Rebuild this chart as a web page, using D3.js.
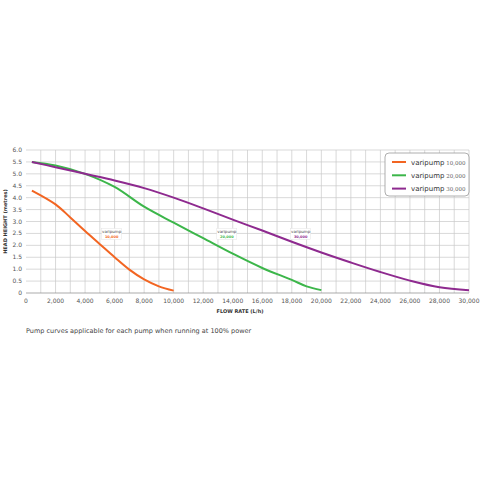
<!DOCTYPE html>
<html><head><meta charset="utf-8">
<script src="https://cdn.jsdelivr.net/npm/d3@7"></script>
<style>body{margin:0;background:#fff}text{font-family:"DejaVu Sans",sans-serif}</style>
</head><body><div id="chart"></div>
<script>
// data
const flow10 = [400, 2000, 3000, 4000, 5000, 6000, 7000, 8000, 9000, 10000];
const head10 = [4.3, 3.72, 3.17, 2.6, 2.05, 1.5, 0.98, 0.57, 0.28, 0.1];
const flow20 = [400, 2000, 4000, 6000, 8000, 10000, 12000, 14000, 16000, 18000, 19000, 20000];
const head20 = [5.5, 5.35, 5.0, 4.45, 3.62, 2.95, 2.3, 1.65, 1.05, 0.55, 0.28, 0.12];
const flow30 = [400, 2000, 4000, 6000, 8000, 10000, 12000, 14000, 16000, 18000, 20000, 22000, 24000, 26000, 28000, 30000];
const head30 = [5.5, 5.28, 5.0, 4.72, 4.4, 4.0, 3.55, 3.08, 2.62, 2.15, 1.7, 1.28, 0.88, 0.52, 0.24, 0.12];
const names = ["10,000", "20,000", "30,000"];
const colors = ["#f26522", "#3cb64a", "#8e2a8f"];
const xTicks = d3.range(0, 30001, 2000);
const yTicks = d3.range(0, 6.01, 0.5);

const width = 480, height = 480;
const margin = {left: 26, right: 11, top: 150, bottom: 187};

const svg = d3.select("#chart").append("svg")
    .attr("width", width).attr("height", height);

const x = d3.scaleLinear().domain([0, 30000]).range([margin.left, width - margin.right]);
const y = d3.scaleLinear().domain([0, 6]).range([height - margin.bottom, margin.top]);

// grid
svg.append("g").selectAll("line").data(d3.range(1000, 30001, 1000)).join("line")
    .attr("x1", d => x(d)).attr("x2", d => x(d))
    .attr("y1", y(0)).attr("y2", y(6))
    .attr("stroke", "#c8c8c8").attr("stroke-width", 0.7);
svg.append("g").selectAll("line").data(yTicks).join("line")
    .attr("x1", x(0)).attr("x2", x(30000))
    .attr("y1", d => y(d)).attr("y2", d => y(d))
    .attr("stroke", d => d == 0 ? "#888" : "#c8c8c8").attr("stroke-width", 0.7);

// tick labels
svg.append("g").selectAll("text").data(xTicks).join("text")
    .attr("x", d => x(d)).attr("y", y(0) + 10)
    .attr("text-anchor", "middle").attr("font-size", 6).attr("fill", "#555")
    .text(d => d3.format(",")(d));
svg.append("g").selectAll("text").data(yTicks).join("text")
    .attr("x", x(0) - 4).attr("y", d => y(d) + 2)
    .attr("text-anchor", "end").attr("font-size", 6).attr("fill", "#555")
    .text(d => d == 0 ? "0" : d.toFixed(1));

svg.append("text").attr("x", 240).attr("y", 313).attr("text-anchor", "middle")
    .attr("font-size", 5).attr("font-weight", "bold").attr("fill", "#333")
    .text("FLOW RATE (L/h)");
svg.append("text").attr("transform", `translate(7,${(y(0) + y(6)) / 2}) rotate(-90)`)
    .attr("text-anchor", "middle").attr("font-size", 5).attr("font-weight", "bold").attr("fill", "#333")
    .text("HEAD HEIGHT (metres)");

// curves
const series = [[flow10, head10], [flow20, head20], [flow30, head30]];
const line = d3.line().x(d => x(d[0])).y(d => y(d[1])).curve(d3.curveCatmullRom);
series.forEach((s, i) => {
  svg.append("path").datum(d3.zip(s[0], s[1]))
      .attr("d", line).attr("fill", "none")
      .attr("stroke", colors[i]).attr("stroke-width", 2);
});

// in-chart tags
const tagFlow = [5800, 13600, 18600];
tagFlow.forEach((f, i) => {
  const g = svg.append("g").attr("transform", `translate(${x(f)},${y(2.5)})`);
  g.append("rect").attr("x", -10).attr("y", -5).attr("width", 20).attr("height", 11)
      .attr("fill", "#fff").attr("stroke", "#ddd").attr("stroke-width", 0.4);
  g.append("text").attr("text-anchor", "middle").attr("y", 0).attr("font-size", 4).attr("fill", "#444").text("varipump");
  g.append("text").attr("text-anchor", "middle").attr("y", 4.5).attr("font-size", 3.5)
      .attr("font-weight", "bold").attr("fill", colors[i]).text(names[i]);
});

// legend
const lg = svg.append("g").attr("transform", "translate(385,153)");
lg.append("rect").attr("width", 84).attr("height", 43).attr("rx", 4)
    .attr("fill", "#fff").attr("stroke", "#999").attr("stroke-width", 0.8);
names.forEach((n, i) => {
  const yy = 9 + i * 13.3;
  lg.append("line").attr("x1", 7).attr("x2", 21).attr("y1", yy).attr("y2", yy)
      .attr("stroke", colors[i]).attr("stroke-width", 2);
  const t = lg.append("text").attr("x", 26).attr("y", yy + 2.5).attr("font-size", 7).attr("fill", "#333");
  t.append("tspan").text("varipump");
  t.append("tspan").attr("font-size", 5.5).attr("fill", "#666").attr("font-family", "DejaVu Serif").text(" " + n);
});

svg.append("text").attr("x", 26).attr("y", 333).attr("font-size", 6.5).attr("fill", "#444")
    .text("Pump curves applicable for each pump when running at 100% power");
</script></body></html>
